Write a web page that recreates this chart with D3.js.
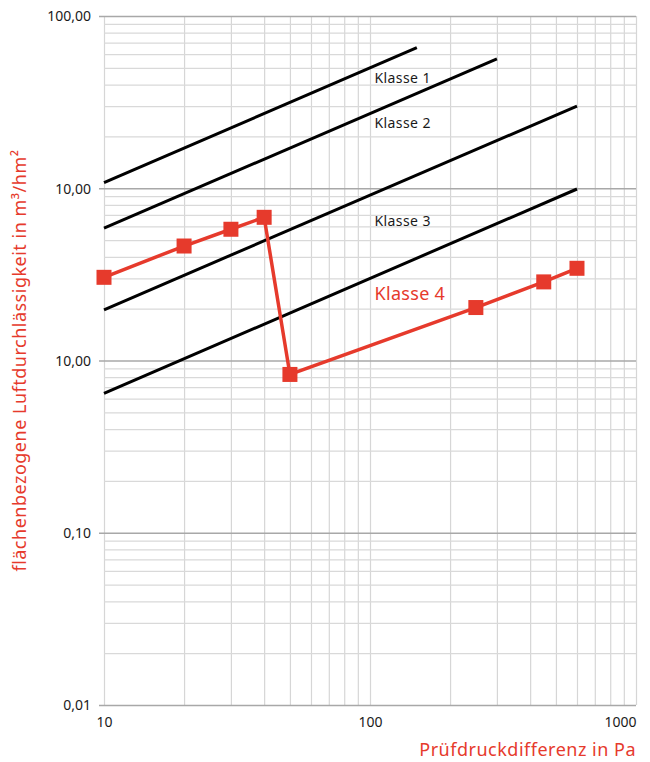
<!DOCTYPE html>
<html>
<head>
<meta charset="utf-8">
<script src="https://cdn.jsdelivr.net/npm/d3@7"></script>
<style>
  body { margin: 0; background: #fff; }
  svg { display: block; font-family: "Noto Sans", sans-serif; }
</style>
</head>
<body>
<div id="chart"></div>
<script>

// measured series (Pa -> m3/hm2)
var pressure = [10, 20, 30, 40, 50, 250, 450, 600];
var flow = [3.04, 4.62, 5.78, 6.78, 0.83, 2.03, 2.86, 3.43];

// class limit lines, start at 10 Pa and end at max test pressure
var classNames = ["Klasse 1", "Klasse 2", "Klasse 3", "Klasse 4"];
var classStartPressure = [10, 10, 10, 10];
var classStartValue = [10.77, 5.87, 1.97, 0.645];
var classEndPressure = [150, 300, 600, 600];
var classEndValue = [65.5, 56.3, 30.0, 9.9];

// label anchors in data units (pressure, value)
var classLabelPressure = [104, 104, 104, 104];
var classLabelValue = [41, 22.5, 6.0, 2.25];

// axis ticks
var xTickValues = [10, 100, 1000];
var xTickLabels = ["10", "100", "1000"];
var yTickValues = [100, 10, 1, 0.1, 0.01];
var yTickLabels = ["100,00", "10,00", "10,00", "0,10", "0,01"];

window.onload = function() {
  main();
};

function main() {
  var canvasWidth = 650,
      canvasHeight = 762,
      margin = { top: 16, right: 14, bottom: 57, left: 104 };

  var width = canvasWidth - margin.left - margin.right;
  var height = canvasHeight - margin.top - margin.bottom;

  var red = "#e63a2c";

  var svg = d3.select("#chart")
    .append("svg")
    .attr("width", canvasWidth)
    .attr("height", canvasHeight);

  var g = svg.append("g")
    .attr("transform", "translate(" + margin.left + "," + margin.top + ")");

  var x = d3.scaleLog().domain([10, 1000]).range([0, width]);
  var y = d3.scaleLog().domain([0.01, 100]).range([height, 0]);

  // minor grid values 1..9 in every decade
  var xMinor = [];
  [10, 100].forEach(function(dec) {
    d3.range(1, 10).forEach(function(m) { xMinor.push(dec * m); });
  });
  xMinor.push(1000);
  var yMinor = [];
  [0.01, 0.1, 1, 10].forEach(function(dec) {
    d3.range(2, 10).forEach(function(m) { yMinor.push(dec * m); });
  });

  // vertical grid
  g.append("g")
    .call(d3.axisBottom(x).tickValues(xMinor).tickSize(-height).tickFormat(""))
    .attr("transform", "translate(0," + height + ")")
    .call(function(a) {
      a.select(".domain").remove();
      a.selectAll("line").attr("stroke", "#d6d6d6").attr("stroke-width", 1.2);
    });

  // horizontal minor grid
  g.append("g")
    .call(d3.axisLeft(y).tickValues(yMinor).tickSize(-width).tickFormat(""))
    .call(function(a) {
      a.select(".domain").remove();
      a.selectAll("line").attr("stroke", "#d9d9d9").attr("stroke-width", 1.2);
    });

  // horizontal major grid with ticks and labels
  g.append("g")
    .call(d3.axisLeft(y).tickValues(yTickValues).tickSizeInner(-width - 5)
      .tickSizeOuter(0).tickPadding(0)
      .tickFormat(function(d, i) { return yTickLabels[i]; }))
    .call(function(a) {
      a.select(".domain").remove();
      a.selectAll("line").attr("x1", -5).attr("x2", width)
        .attr("stroke", "#a8a8a8").attr("stroke-width", 1.4);
      a.selectAll("text").attr("x", -13).attr("dy", "0.35em")
        .style("font-size", "14px").style("font-family", "'Noto Sans', sans-serif")
        .attr("fill", "#1a1a1a");
    });

  // x labels
  var xAxis = g.append("g")
    .attr("transform", "translate(0," + height + ")")
    .call(d3.axisBottom(x).tickValues(xTickValues).tickSize(0).tickPadding(12)
      .tickFormat(function(d, i) { return xTickLabels[i]; }));
  xAxis.select(".domain").remove();
  xAxis.selectAll("text")
    .style("font-size", "14px")
    .style("font-family", "'Noto Sans', sans-serif")
    .attr("fill", "#1a1a1a")
    .attr("text-anchor", function(d) { return d === 1000 ? "end" : "middle"; });

  // class lines
  classNames.forEach(function(name, i) {
    g.append("line")
      .attr("x1", x(classStartPressure[i]))
      .attr("y1", y(classStartValue[i]))
      .attr("x2", x(classEndPressure[i]))
      .attr("y2", y(classEndValue[i]))
      .attr("stroke", "#000")
      .attr("stroke-width", 3);
  });

  // class labels
  classNames.forEach(function(name, i) {
    var last = i === classNames.length - 1;
    g.append("text")
      .attr("x", x(classLabelPressure[i]))
      .attr("y", y(classLabelValue[i]))
      .attr("fill", last ? red : "#1a1a1a")
      .style("font-size", last ? "18px" : "14px")
      .style("letter-spacing", last ? "0.3px" : "0.4px")
      .text(name);
  });

  // measured line and markers
  var points = pressure.map(function(p, i) { return [p, flow[i]]; });
  var line = d3.line()
    .x(function(d) { return x(d[0]); })
    .y(function(d) { return y(d[1]); });

  g.append("path")
    .datum(points)
    .attr("d", line)
    .attr("fill", "none")
    .attr("stroke", red)
    .attr("stroke-width", 3.5);

  g.selectAll(".marker")
    .data(points)
    .enter()
    .append("rect")
    .attr("class", "marker")
    .attr("x", function(d) { return x(d[0]) - 7.5; })
    .attr("y", function(d) { return y(d[1]) - 7.5; })
    .attr("width", 15)
    .attr("height", 15)
    .attr("fill", red);

  // axis titles
  svg.append("text")
    .attr("x", margin.left + width)
    .attr("y", 756)
    .attr("text-anchor", "end")
    .attr("fill", red)
    .style("font-size", "18px")
    .style("letter-spacing", "0.5px")
    .text("Prüfdruckdifferenz in Pa");

  svg.append("text")
    .attr("transform", "translate(26," + (margin.top + height / 2) + ") rotate(-90)")
    .attr("text-anchor", "middle")
    .attr("fill", red)
    .style("font-size", "18px")
    .style("letter-spacing", "0.5px")
    .text("flächenbezogene Luftdurchlässigkeit in m³/hm²");
}
</script>
</body>
</html>
